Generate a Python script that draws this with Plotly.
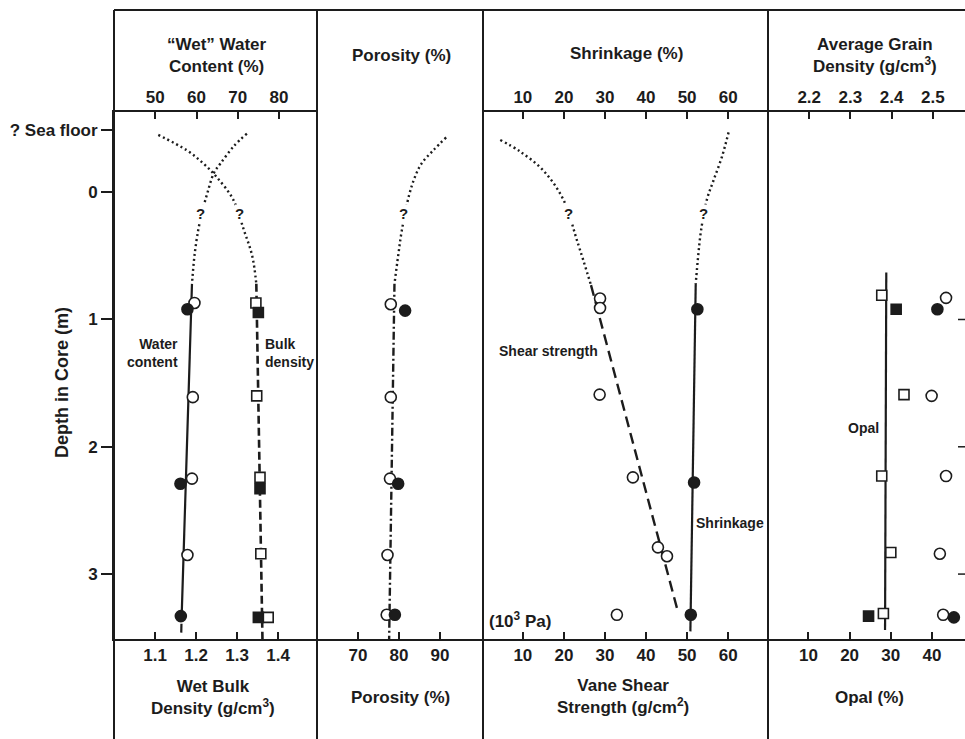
import plotly.graph_objects as go

# ---------------- data (depth in core, m) ----------------
# Panel 1: "wet" water content (%) on the top scale, wet bulk density (g/cm3) on the bottom scale
wc_open_depth = [0.87, 1.61, 2.25, 2.85]
wc_open = [59.5, 59.1, 58.9, 57.8]
wc_fill_depth = [0.92, 2.29, 3.33]
wc_fill = [57.8, 56.1, 56.2]
wc_trend_depth = [0.72, 3.33]
wc_trend = [58.9, 56.4]
wc_tail_depth = [3.39, 3.46]
wc_tail = [56.35, 56.3]
wc_guess_depth = [-0.46, -0.36, -0.225, -0.15, 0.01, 0.15, 0.3, 0.5, 0.72]
wc_guess = [72.2, 69.0, 65.8, 64.2, 62.6, 61.4, 60.4, 59.5, 58.9]

bd_open_depth = [0.87, 1.60, 2.24, 2.84, 3.34]
bd_open = [1.346, 1.348, 1.356, 1.358, 1.376]
bd_fill_depth = [0.945, 2.33, 3.34]
bd_fill = [1.352, 1.356, 1.352]
bd_trend_depth = [0.72, 3.51]
bd_trend = [1.347, 1.362]
bd_guess_depth = [-0.45, -0.33, -0.225, -0.12, 0.06, 0.3, 0.5, 0.72]
bd_guess = [1.108, 1.177, 1.218, 1.25, 1.291, 1.317, 1.337, 1.347]

# Panel 2: porosity (%)
po_open_depth = [0.88, 1.61, 2.25, 2.85, 3.32]
po_open = [78.0, 78.0, 77.8, 77.2, 77.0]
po_fill_depth = [0.93, 2.29, 3.32]
po_fill = [81.5, 79.8, 79.0]
po_trend_depth = [0.72, 3.51]
po_trend = [78.9, 77.6]
po_guess_depth = [-0.43, -0.33, -0.225, -0.12, 0.02, 0.3, 0.5, 0.72]
po_guess = [91.5, 88.4, 85.5, 83.9, 82.5, 80.7, 79.8, 78.9]

# Panel 3: vane shear strength (g/cm2, bottom scale) and shrinkage (%, top scale)
sh_open_depth = [0.835, 0.91, 1.59, 2.24, 2.79, 2.86, 3.32]
sh_open = [28.8, 28.8, 28.7, 36.8, 42.9, 45.1, 32.9]
sh_trend_depth = [0.73, 3.30]
sh_trend = [26.6, 47.8]
sh_guess_depth = [-0.41, -0.32, -0.17, 0.06, 0.38, 0.73]
sh_guess = [4.5, 9.3, 15.0, 19.9, 23.2, 26.6]

sk_fill_depth = [0.92, 2.28, 3.32]
sk_fill = [52.5, 51.7, 50.9]
sk_trend_depth = [0.72, 3.45]
sk_trend = [52.1, 50.8]
sk_guess_depth = [-0.47, -0.28, -0.09, 0.06, 0.3, 0.5, 0.72]
sk_guess = [60.1, 58.5, 56.4, 54.8, 53.4, 52.7, 52.1]

# Panel 4: opal (%, bottom scale) and average grain density (g/cm3, top scale)
op_open_depth = [0.81, 1.59, 2.23, 2.83, 3.31]
op_open = [27.8, 33.2, 27.8, 30.0, 28.2]
op_fill_depth = [0.92, 3.33]
op_fill = [31.3, 24.6]
op_trend_depth = [0.63, 3.44]
op_trend = [28.9, 28.6]

gd_open_depth = [0.83, 1.60, 2.23, 2.84, 3.32]
gd_open = [2.532, 2.497, 2.532, 2.517, 2.525]
gd_fill_depth = [0.92, 3.34]
gd_fill = [2.511, 2.551]

# depth axis
depth_ticks = [-0.49, 0, 1, 2, 3]
depth_labels = ["? Sea floor", "0", "1", "2", "3"]
edge_ticks = [1, 2, 3]

INK = "#1c1c1c"
FONT = "Liberation Sans"

fig = go.Figure()


def line(xa, d, v, dash, width=2.2, shape="linear"):
    fig.add_trace(go.Scatter(x=v, y=d, xaxis=xa, yaxis="y", mode="lines",
                             line=dict(color=INK, width=width, dash=dash, shape=shape),
                             hoverinfo="skip", showlegend=False))


def pts(xa, d, v, symbol, filled, size=11):
    fig.add_trace(go.Scatter(x=v, y=d, xaxis=xa, yaxis="y", mode="markers",
                             marker=dict(symbol=symbol, size=size,
                                         color=INK if filled else "white",
                                         line=dict(color=INK, width=1.6)),
                             cliponaxis=False, showlegend=False))


DOT = "2px,3px"

# panel 1
line("x2", wc_guess_depth, wc_guess, DOT, 2.4, "spline")
line("x2", wc_trend_depth, wc_trend, "solid", 2.2)
line("x2", wc_tail_depth, wc_tail, "solid", 2.2)
line("x", bd_guess_depth, bd_guess, DOT, 2.4, "spline")
line("x", bd_trend_depth, bd_trend, "8px,4px", 2.6)
pts("x2", wc_open_depth, wc_open, "circle", False)
pts("x2", wc_fill_depth, wc_fill, "circle", True)
pts("x", bd_open_depth, bd_open, "square", False, 10)
pts("x", bd_fill_depth, bd_fill, "square", True, 10)

# panel 2
line("x3", po_guess_depth, po_guess, DOT, 2.4, "spline")
line("x3", po_trend_depth, po_trend, "8px,3px,2px,3px", 2.4)
pts("x3", po_open_depth, po_open, "circle", False)
pts("x3", po_fill_depth, po_fill, "circle", True)

# panel 3
line("x5", sh_guess_depth, sh_guess, DOT, 2.4, "spline")
line("x5", sh_trend_depth, sh_trend, "11px,6px", 2.4)
line("x6", sk_guess_depth, sk_guess, DOT, 2.4, "spline")
line("x6", sk_trend_depth, sk_trend, "solid", 2.2)
pts("x5", sh_open_depth, sh_open, "circle", False)
pts("x6", sk_fill_depth, sk_fill, "circle", True)

# panel 4
line("x7", op_trend_depth, op_trend, "solid", 2.2)
pts("x7", op_open_depth, op_open, "square", False, 10)
pts("x7", op_fill_depth, op_fill, "square", True, 10)
pts("x8", gd_open_depth, gd_open, "circle", False)
pts("x8", gd_fill_depth, gd_fill, "circle", True)

# ---------------- axes ----------------
W, H = 965, 739
L, R, T, B = 114, 0, 112, 100
plot_w = W - L - R
edges_px = [114, 317, 483, 768, 965]
edges = [(e - L) / plot_w for e in edges_px]

tickfont = dict(family=FONT, size=17, color=INK, weight="bold")
axis_common = dict(showline=True, linecolor=INK, linewidth=2, ticks="inside",
                   ticklen=7, tickwidth=1.5, tickcolor=INK, showgrid=False,
                   zeroline=False, tickfont=tickfont, fixedrange=True)

# (bottom range, bottom ticks, top range, top ticks)
panels = [
    ([1.0, 1.495], [1.1, 1.2, 1.3, 1.4], [40, 89.2], [50, 60, 70, 80]),
    ([60, 100.5], [70, 80, 90], [60, 100.5], [70, 80, 90]),
    ([0.3, 69.7], [10, 20, 30, 40, 50, 60], [0.3, 69.7], [10, 20, 30, 40, 50, 60]),
    ([0.2, 48.0], [10, 20, 30, 40], [2.1, 2.578], [2.2, 2.3, 2.4, 2.5]),
]
layout_axes = {}
for i, (brange, bticks, trange, tticks) in enumerate(panels):
    nb, nt = 2 * i + 1, 2 * i + 2
    bname = "xaxis" if nb == 1 else f"xaxis{nb}"
    dom = [edges[i], edges[i + 1]]
    layout_axes[bname] = dict(axis_common, domain=dom, range=brange, tickvals=bticks,
                              side="bottom", anchor="y")
    layout_axes[f"xaxis{nt}"] = dict(axis_common, domain=dom, range=trange,
                                     tickvals=tticks, side="top", anchor="y",
                                     overlaying="x" if nb == 1 else f"x{nb}")

fig.update_layout(
    width=W, height=H, margin=dict(l=L, r=R, t=T, b=B),
    paper_bgcolor="white", plot_bgcolor="white",
    font=dict(family=FONT, color=INK),
    yaxis=dict(range=[3.51, -0.63], tickvals=depth_ticks, ticktext=depth_labels,
               ticks="outside", ticklen=11, tickwidth=2, tickcolor=INK,
               showline=True, linecolor=INK, linewidth=2, showgrid=False,
               zeroline=False, tickfont=tickfont, fixedrange=True),
    **layout_axes,
)


def py(ypix):
    return (H - B - ypix) / (H - B - T)


def px(xpix):
    return (xpix - L) / plot_w


# frame: top border, left border and panel separators
frame = dict(type="line", xref="paper", yref="paper", line=dict(color=INK, width=2))
fig.add_shape(frame, x0=0, x1=1, y0=py(10), y1=py(10))
for e in edges[:-1]:
    fig.add_shape(frame, x0=e, x1=e, y0=py(H), y1=py(10))
for d in edge_ticks:
    fig.add_shape(type="line", xref="paper", yref="y", x0=px(958), x1=1, y0=d, y1=d,
                  line=dict(color=INK, width=1.5))

titlefont = dict(family=FONT, size=17, color=INK, weight="bold")
titles = [
    ("\u201cWet\u201d Water<br>Content (%)", 217, 55),
    ("Porosity (%)", 401.7, 55),
    ("Shrinkage (%)", 626.7, 54),
    ("Average Grain<br>Density (g/cm<sup>3</sup>)", 875, 55),
    ("Wet Bulk<br>Density (g/cm<sup>3</sup>)", 213, 697.5),
    ("Porosity (%)", 400, 697),
    ("Vane Shear<br>Strength (g/cm<sup>2</sup>)", 623, 696),
    ("Opal (%)", 869, 697),
]
for text, xp, yp in titles:
    fig.add_annotation(text=text, xref="paper", yref="paper", x=px(xp), y=py(yp),
                       showarrow=False, font=titlefont, align="center",
                       xanchor="center", yanchor="middle")

fig.add_annotation(text="Depth in Core (m)", xref="paper", yref="paper",
                   x=px(62), y=py(383), textangle=-90, showarrow=False,
                   font=dict(family=FONT, size=18, color=INK, weight="bold"),
                   xanchor="center", yanchor="middle")

labelfont = dict(family=FONT, size=14, color=INK, weight="bold")
labels = [
    ("Water<br>content", "x2", 56.05, 1.265, "right"),
    ("Bulk<br>density", "x", 1.363, 1.265, "left"),
    ("Shear strength", "x5", 28.8, 1.247, "right"),
    ("Shrinkage", "x6", 51.8, 2.6, "left"),
    ("Opal", "x7", 27.6, 1.856, "right"),
    ("(10<sup>3</sup> Pa)", "x5", 1.3, 3.36, "left"),
]
for text, xa, xv, yv, anchor in labels:
    fig.add_annotation(text=text, xref=xa, yref="y", x=xv, y=yv, showarrow=False,
                       font=labelfont if "Pa" not in text else titlefont,
                       xanchor=anchor, yanchor="middle", align=anchor)

# question marks where the profiles are extrapolated to the sea floor
qfont = dict(family=FONT, size=15, color=INK, weight="bold")
qmarks = [("x2", 60.9), ("x", 1.307), ("x3", 81.2), ("x5", 21.0), ("x6", 53.9)]
for xa, xv in qmarks:
    fig.add_annotation(text="?", xref=xa, yref="y", x=xv, y=0.165, showarrow=False,
                       font=qfont, xanchor="center", yanchor="middle",
                       bgcolor="white", borderpad=0)

fig.write_html("out.html")
